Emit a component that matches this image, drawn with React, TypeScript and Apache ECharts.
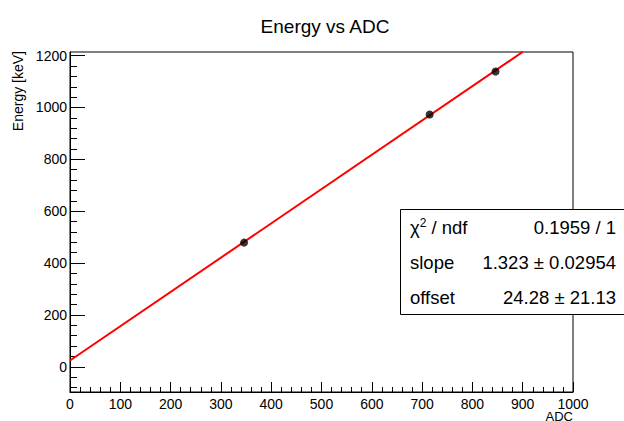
import React, { useEffect, useRef } from "react";
import * as echarts from "echarts";

const adcValues = [346, 715, 846];
const energyValues = [479, 973, 1139];
const fitLine = [
  [0, 24.28],
  [900.5, 1215],
];
const yMajorTicks = [0, 200, 400, 600, 800, 1000, 1200];
const yMinorTicks = [
  -80, -40, 40, 80, 120, 160, 240, 280, 320, 360, 440, 480, 520, 560, 640, 680, 720, 760, 840, 880, 920, 960,
  1040, 1080, 1120, 1160,
];
const statsRows = [
  ["{a|χ}{sup|2}{a| / ndf}", "0.1959 / 1"],
  ["slope", "1.323 ± 0.02954"],
  ["offset", "24.28 ± 21.13"],
];

const FONT = "Liberation Sans, Arial, Helvetica, sans-serif";

export default function App() {
  const ref = useRef<HTMLDivElement>(null);
  useEffect(() => {
    if (!ref.current) return;
    const chart = echarts.init(ref.current, null, { renderer: "svg" });
    const rowY = [227, 262, 297];
    const statsGraphics: any[] = [
      {
        type: "rect",
        shape: { x: 400.5, y: 209.5, width: 240, height: 105 },
        style: { fill: "#fff", stroke: "#000", lineWidth: 1 },
        z: 100,
      },
    ];
    statsRows.forEach((r, i) => {
      statsGraphics.push({
        type: "text",
        x: 410,
        y: rowY[i],
        z: 101,
        style: {
          text: r[0],
          fill: "#000",
          fontFamily: FONT,
          fontSize: 18.5,
          align: "left",
          verticalAlign: "middle",
          rich: {
            a: { fontSize: 18.5, fontFamily: FONT, fill: "#000" },
            sup: { fontSize: 12, fontFamily: FONT, fill: "#000", verticalAlign: "top", padding: [0, 0, 8, 0] },
          },
        },
      });
      statsGraphics.push({
        type: "text",
        x: 616,
        y: rowY[i],
        z: 101,
        style: {
          text: r[1],
          fill: "#000",
          fontFamily: FONT,
          fontSize: 18.5,
          align: "right",
          verticalAlign: "middle",
        },
      });
    });

    const fmt = (v: number) => String(v);

    chart.setOption({
      animation: false,
      backgroundColor: "#fff",
      title: {
        text: "Energy vs ADC",
        left: 320,
        top: 12,
        textAlign: "center",
        textStyle: { fontFamily: FONT, fontSize: 19, fontWeight: "normal", color: "#000" },
      },
      grid: {
        left: 70,
        right: 51,
        top: 52,
        bottom: 29,
        show: true,
        borderColor: "#000",
        borderWidth: 1,
        backgroundColor: "transparent",
      },
      xAxis: {
        type: "value",
        min: 0,
        max: 1000,
        interval: 100,
        axisLine: { show: true, onZero: false, lineStyle: { color: "#000", width: 1 } },
        axisTick: { show: true, inside: true, length: 10, lineStyle: { color: "#000" } },
        minorTick: { show: true, splitNumber: 5, length: 5, lineStyle: { color: "#000" } },
        axisLabel: { color: "#000", fontFamily: FONT, fontSize: 14, margin: 5, formatter: fmt },
        splitLine: { show: false },
      },
      yAxis: [
        {
          type: "value",
          min: -97,
          max: 1214,
          position: "left",
          axisLine: { show: true, onZero: false, lineStyle: { color: "#000", width: 1 } },
          axisTick: {
            show: true,
            inside: true,
            length: 15,
            customValues: yMajorTicks,
            lineStyle: { color: "#000" },
          },
          axisLabel: {
            color: "#000",
            fontFamily: FONT,
            fontSize: 14,
            margin: 3,
            customValues: yMajorTicks,
            formatter: fmt,
          },
          splitLine: { show: false },
        },
        {
          type: "value",
          min: -97,
          max: 1214,
          position: "left",
          offset: 0,
          axisLine: { show: false, onZero: false },
          axisTick: {
            show: true,
            inside: true,
            length: 7,
            customValues: yMinorTicks,
            lineStyle: { color: "#000" },
          },
          axisLabel: { show: false },
          splitLine: { show: false },
        },
      ],
      series: [
        {
          type: "line",
          data: fitLine,
          showSymbol: false,
          symbol: "none",
          lineStyle: { color: "#ff0000", width: 2 },
          clip: true,
          z: 3,
        },
        {
          type: "scatter",
          data: adcValues.map((x, i) => [x, energyValues[i]]),
          symbol: "circle",
          symbolSize: 8,
          itemStyle: { color: "#000" },
          z: 4,
        },
      ],
      graphic: [
        {
          type: "text",
          x: 18,
          y: 51,
          rotation: Math.PI / 2,
          style: {
            text: "Energy [keV]",
            fill: "#000",
            fontFamily: FONT,
            fontSize: 14,
            align: "right",
            verticalAlign: "middle",
          },
        },
        {
          type: "text",
          x: 573,
          y: 416,
          style: {
            text: "ADC",
            fill: "#000",
            fontFamily: FONT,
            fontSize: 13,
            align: "right",
            verticalAlign: "middle",
          },
        },
        ...statsGraphics,
      ],
    });
    return () => chart.dispose();
  }, []);
  return <div ref={ref} style={{ width: 624, height: 421, position: "absolute", left: 0, top: 0 }} />;
}
